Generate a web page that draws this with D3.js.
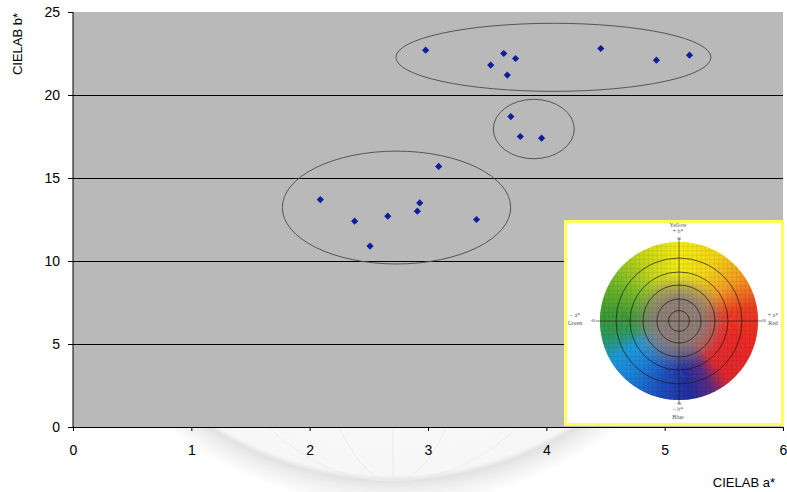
<!DOCTYPE html>
<html>
<head>
<meta charset="utf-8">
<script src="https://cdn.jsdelivr.net/npm/d3@7"></script>
<style>
  html, body { margin: 0; padding: 0; background: #fff; }
  svg { display: block; font-family: "Liberation Sans", Arial, sans-serif; }
</style>
</head>
<body>
<svg id="chart" width="787" height="492"></svg>
<script>
// Measured samples: CIELAB a* and b*
const aValues = [2.98, 3.64, 3.74, 3.53, 3.67, 4.46, 4.93, 5.21, 3.70, 3.78, 3.96, 3.09, 2.09, 2.93, 2.91, 2.66, 2.38, 3.41, 2.51];
const bValues = [22.7, 22.5, 22.2, 21.8, 21.2, 22.8, 22.1, 22.4, 18.7, 17.5, 17.4, 15.7, 13.7, 13.5, 13.0, 12.7, 12.4, 12.5, 10.9];

// Cluster outlines (centre a*, centre b*, half-width a*, half-height b*)
const clusterCx = [4.06, 3.894, 2.734];
const clusterCy = [22.27, 17.95, 13.22];
const clusterRx = [1.331, 0.342, 0.965];
const clusterRy = [2.05, 1.79, 3.40];

const xTicks = [0, 1, 2, 3, 4, 5, 6];
const yTicks = [0, 5, 10, 15, 20, 25];
const gridValues = [5, 10, 15, 20];

const svg = d3.select("#chart");
const defs = svg.append("defs");

const x = d3.scaleLinear().domain([0, 6]).range([73, 783]);
const y = d3.scaleLinear().domain([0, 25]).range([427, 12]);

// ---- faint globe watermark, only its lower part shows under the plot ----
const gx = 393, gy = 138, gr = 343;
defs.append("clipPath").attr("id", "belowPlot").append("rect")
  .attr("x", 0).attr("y", y(0)).attr("width", 787).attr("height", 492 - y(0));
const shadow = defs.append("radialGradient")
  .attr("id", "globeShadow").attr("gradientUnits", "userSpaceOnUse")
  .attr("cx", gx).attr("cy", gy).attr("r", gr + 26);
shadow.append("stop").attr("offset", 0).attr("stop-color", "#ffffff");
shadow.append("stop").attr("offset", (gr - 6) / (gr + 26)).attr("stop-color", "#f7f7f7");
shadow.append("stop").attr("offset", gr / (gr + 26)).attr("stop-color", "#e2e2e2");
shadow.append("stop").attr("offset", (gr + 8) / (gr + 26)).attr("stop-color", "#eeeeee");
shadow.append("stop").attr("offset", 1).attr("stop-color", "#ffffff");
const globeLayer = svg.append("g").attr("clip-path", "url(#belowPlot)");
globeLayer.append("circle").attr("cx", gx).attr("cy", gy).attr("r", gr + 26).attr("fill", "url(#globeShadow)");
const globe = globeLayer.append("g").attr("fill", "none").attr("stroke", "#ececec").attr("stroke-width", 1);
[232, 100].forEach(rx => globe.append("ellipse").attr("cx", gx).attr("cy", gy).attr("rx", rx).attr("ry", gr));
globe.append("line").attr("x1", gx).attr("x2", gx).attr("y1", gy).attr("y2", gy + gr);

// ---- plot area ----
svg.append("rect")
  .attr("x", x(0)).attr("y", y(25))
  .attr("width", x(6) - x(0)).attr("height", y(0) - y(25))
  .attr("fill", "#b9b9b9");

svg.append("g").selectAll("line").data(gridValues).join("line")
  .attr("x1", x(0)).attr("x2", x(6))
  .attr("y1", d => y(d)).attr("y2", d => y(d))
  .attr("stroke", "#000").attr("stroke-width", 1)
  .attr("shape-rendering", "crispEdges");

// cluster ellipses
svg.append("g").selectAll("ellipse").data(clusterCx).join("ellipse")
  .attr("cx", (d, i) => x(clusterCx[i]))
  .attr("cy", (d, i) => y(clusterCy[i]))
  .attr("rx", (d, i) => x(clusterRx[i]) - x(0))
  .attr("ry", (d, i) => y(0) - y(clusterRy[i]))
  .attr("fill", "none").attr("stroke", "#555").attr("stroke-width", 1);

// points (square diamonds)
const s = 3.6;
svg.append("g").selectAll("path").data(aValues).join("path")
  .attr("d", (d, i) => {
    const px = x(aValues[i]), py = y(bValues[i]);
    return `M${px},${py - s}L${px + s},${py}L${px},${py + s}L${px - s},${py}Z`;
  })
  .attr("fill", "#0d1d9e");

// ---- colour wheel inset ----
const inset = svg.append("g");
inset.append("rect").attr("x", 565.5).attr("y", 221.5).attr("width", 217).attr("height", 203)
  .attr("fill", "#fff").attr("stroke", "#ffff5e").attr("stroke-width", 3);

const wcx = 679, wcy = 321, wr = 79;
defs.append("filter").attr("id", "soft").append("feGaussianBlur").attr("stdDeviation", 0.7);
defs.append("clipPath").attr("id", "wheelClip").append("circle")
  .attr("cx", wcx).attr("cy", wcy).attr("r", wr);

const hueAngles = [0, 30, 55, 80, 110, 140, 155, 172, 195, 220, 240, 258, 275, 300, 330, 360];
const hueColors = ["#f3ec12", "#f4d414", "#f39c22", "#ec3c20", "#ea2a26", "#e0282e", "#5a2c82", "#232e9c", "#1f4fbe", "#1a80d8", "#1e98dc", "#2e9a5c", "#3f9a34", "#72b82a", "#c6d61a", "#f3ec12"];
const hue = d3.scaleLinear().domain(hueAngles).range(hueColors).interpolate(d3.interpolateRgb);

const wheel = inset.append("g").attr("transform", `translate(${wcx},${wcy})`).attr("filter", "url(#soft)");
const wedge = d3.arc().innerRadius(0).outerRadius(wr);
wheel.selectAll("path").data(d3.range(0, 360, 1)).join("path")
  .attr("d", d => wedge({ startAngle: d * Math.PI / 180, endAngle: (d + 1.6) * Math.PI / 180 }))
  .attr("fill", d => hue(d + 0.5));

const core = defs.append("radialGradient").attr("id", "wheelCore");
[[0, 1], [0.28, 0.96], [0.42, 0.6], [0.54, 0.18], [0.62, 0]].forEach(([o, a]) =>
  core.append("stop").attr("offset", o).attr("stop-color", "#8f7f78").attr("stop-opacity", a));
wheel.append("circle").attr("r", wr).attr("fill", "url(#wheelCore)");

// fine grid
const gridG = inset.append("g").attr("clip-path", "url(#wheelClip)")
  .attr("stroke", "#000").attr("stroke-opacity", 0.12).attr("stroke-width", 0.6);
d3.range(-wr, wr + 1, 4.4).forEach(o => {
  gridG.append("line").attr("x1", wcx + o).attr("x2", wcx + o).attr("y1", wcy - wr).attr("y2", wcy + wr);
  gridG.append("line").attr("y1", wcy + o).attr("y2", wcy + o).attr("x1", wcx - wr).attr("x2", wcx + wr);
});

// rings and axes
const rings = inset.append("g").attr("fill", "none").attr("stroke", "#1a1a1a").attr("stroke-opacity", 0.7);
[10.5, 22, 36, 49, 63].forEach(r => rings.append("circle").attr("cx", wcx).attr("cy", wcy).attr("r", r).attr("stroke-width", 1));
rings.append("line").attr("x1", wcx - wr - 4).attr("x2", wcx + wr + 4).attr("y1", wcy).attr("y2", wcy).attr("stroke-width", 0.8);
rings.append("line").attr("y1", wcy - wr - 4).attr("y2", wcy + wr + 4).attr("x1", wcx).attr("x2", wcx).attr("stroke-width", 0.8);

const wl = inset.append("g").attr("font-family", "'Liberation Serif', 'DejaVu Serif', serif")
  .attr("fill", "#555").attr("font-size", 6).attr("text-anchor", "middle");
wl.append("text").attr("x", wcx - 1).attr("y", 227).text("Yellow");
wl.append("text").attr("x", wcx - 1).attr("y", 233).text("+ b*");
wl.append("text").attr("x", wcx - 1).attr("y", 411).text("– b*");
wl.append("text").attr("x", wcx - 1).attr("y", 419).text("Blue");
wl.append("text").attr("x", 575).attr("y", 317).text("– a*");
wl.append("text").attr("x", 575).attr("y", 325).text("Green");
wl.append("text").attr("x", 773).attr("y", 317).text("+ a*");
wl.append("text").attr("x", 773).attr("y", 325).text("Red");
const tiny = inset.append("g").attr("font-family", "'Liberation Serif', serif")
  .attr("fill", "#333").attr("font-size", 3.5).attr("text-anchor", "middle");
tiny.append("text").attr("x", 593).attr("y", wcy + 1.2).text("-60");
tiny.append("text").attr("x", 764).attr("y", wcy + 1.2).text("60");
tiny.append("text").attr("x", wcx).attr("y", 240).text("60");
tiny.append("text").attr("x", wcx).attr("y", 405).text("-60");

// ---- axes ----
const yAxis = d3.axisLeft(y).tickValues(yTicks).tickFormat(d3.format("d"))
  .tickSize(5).tickSizeOuter(0).tickPadding(8);
const gy0 = svg.append("g").attr("transform", `translate(${x(0)},0)`).call(yAxis);
const xAxis = d3.axisBottom(x).tickValues(xTicks).tickFormat(d3.format("d"))
  .tickSize(4).tickSizeOuter(0).tickPadding(14);
const gx0 = svg.append("g").attr("transform", `translate(0,${y(0)})`).call(xAxis);
[gy0, gx0].forEach(g => {
  g.selectAll("text").attr("font-size", 14).attr("fill", "#000")
    .attr("font-family", "'Liberation Sans', Arial, sans-serif");
  g.selectAll("line, path").attr("stroke", "#000");
});
gy0.select(".domain").attr("d", `M0,${y(25)}V${y(0)}`);

svg.append("text")
  .attr("transform", "translate(22,44) rotate(-90)")
  .attr("text-anchor", "middle").attr("font-size", 13).attr("fill", "#000")
  .text("CIELAB b*");
svg.append("text")
  .attr("x", 775).attr("y", 487).attr("text-anchor", "end")
  .attr("font-size", 13).attr("fill", "#000")
  .text("CIELAB a*");
</script>
</body>
</html>
